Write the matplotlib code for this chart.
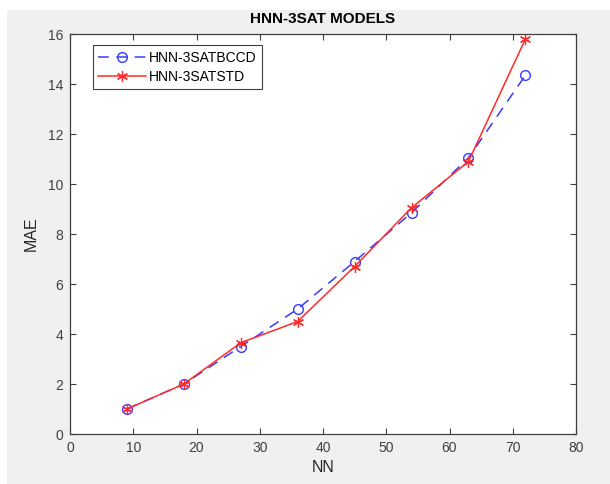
import matplotlib
matplotlib.use('Agg')
import matplotlib.pyplot as plt
from matplotlib.patches import Rectangle

plt.rcParams['font.family'] = ['Liberation Sans', 'DejaVu Sans']

nn = [9, 18, 27, 36, 45, 54, 63, 72]
mae_bccd = [1.0, 2.0, 3.5, 5.0, 6.9, 8.85, 11.05, 14.35]
mae_std = [1.0, 2.0, 3.65, 4.5, 6.7, 9.05, 10.9, 15.8]

GRAY = '#f0f0f0'
AX_COLOR = '#404040'

fig = plt.figure(figsize=(6.1, 4.84), dpi=100, facecolor='white')
# grey figure panel, with a thin white strip on the left and top
fig.patches.append(Rectangle((7 / 610, 0), 1, 1 - 10 / 484, transform=fig.transFigure,
                             facecolor=GRAY, edgecolor='none', zorder=-10))
ax = fig.add_axes([70 / 610, 50 / 484, 506 / 610, 400 / 484])

ax.plot(nn, mae_bccd, color='#3a3aff', linestyle=(0, (7, 5)), linewidth=1.1,
        marker='o', markersize=7, markerfacecolor='none', markeredgewidth=1.0,
        label='HNN-3SATBCCD')
ax.plot(nn, mae_std, color='#ff2a2a', linestyle='-', linewidth=1.1,
        marker=(6, 2, 0), markersize=8, markeredgewidth=0.9,
        label='HNN-3SATSTD')

ax.set_xlim(0, 80)
ax.set_ylim(0, 16)
ax.set_xticks(range(0, 81, 10))
ax.set_yticks(range(0, 17, 2))
ax.tick_params(direction='in', top=True, right=True, length=4, width=0.8,
               colors=AX_COLOR, labelsize=10, pad=5)
for s in ax.spines.values():
    s.set_color(AX_COLOR)
    s.set_linewidth(0.9)

ax.set_xlabel('NN', fontsize=11.5, color='#262626', labelpad=4)
ax.set_ylabel('MAE', fontsize=11.5, color='#262626', labelpad=6)
ax.set_title('HNN-3SAT MODELS', fontsize=11, fontweight='bold', color='black', pad=8)

leg = ax.legend(loc='upper left', bbox_to_anchor=(0.045, 0.972), fontsize=10,
                fancybox=False, framealpha=1, edgecolor=AX_COLOR,
                handlelength=3.4, handletextpad=0.25, borderpad=0.4,
                labelspacing=0.35, borderaxespad=0)
leg.get_frame().set_linewidth(0.8)

fig.savefig('out.png', dpi=100, facecolor=fig.get_facecolor())
